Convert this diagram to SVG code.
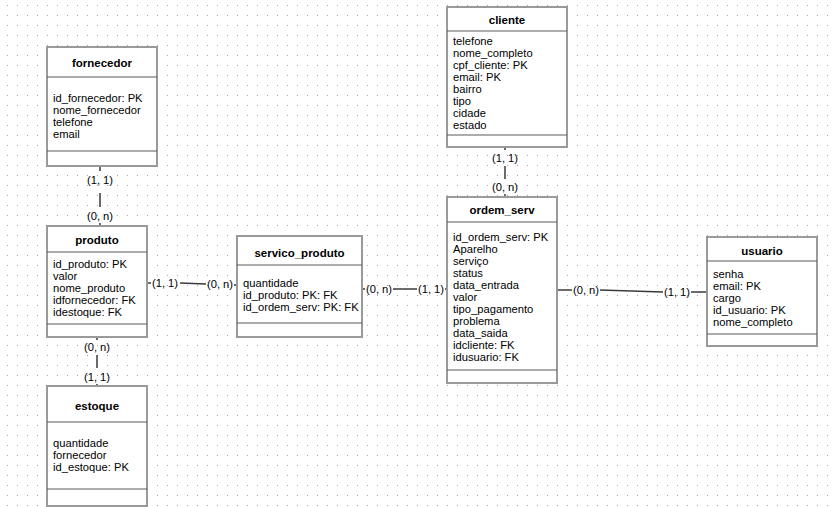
<svg xmlns="http://www.w3.org/2000/svg" width="832" height="507" viewBox="0 0 832 507">
  <defs>
    <pattern id="grid" x="0" y="0" width="10" height="10" patternUnits="userSpaceOnUse">
      <rect x="7" y="5" width="1" height="1" fill="#a8a8a8"/>
    </pattern>
    <style>
      .box { fill: #ffffff; stroke: #9a9a9a; stroke-width: 2; }
      .sep { stroke: #5a5a5a; stroke-width: 1.2; }
      .title { font-family: "Liberation Sans", Arial, sans-serif; font-size: 11.5px; font-weight: bold; fill: #000; text-anchor: middle; }
      .attr { font-family: "Liberation Sans", Arial, sans-serif; font-size: 11.2px; fill: #000; }
      .card { font-family: "Liberation Sans", Arial, sans-serif; font-size: 11.2px; fill: #000; text-anchor: middle; }
      .link { stroke: #3a3a3a; stroke-width: 1.5; fill: none; }
    </style>
  </defs>

  <rect x="0" y="0" width="832" height="507" fill="#ffffff"/>
  <rect x="0" y="0" width="832" height="507" fill="url(#grid)"/>

  <!-- relationships -->
  <g id="connectors">
    <!-- fornecedor - produto -->
    <line class="link" x1="100" y1="166" x2="100" y2="171"/>
    <text class="card" x="100" y="184">(1, 1)</text>
    <line class="link" x1="100" y1="193" x2="100" y2="207"/>
    <text class="card" x="100" y="220">(0, n)</text>
    <line class="link" x1="100" y1="223" x2="100" y2="226"/>

    <!-- produto - estoque -->
    <line class="link" x1="97" y1="337" x2="97" y2="340"/>
    <text class="card" x="97" y="351">(0, n)</text>
    <line class="link" x1="97" y1="355" x2="97" y2="368"/>
    <text class="card" x="97" y="381">(1, 1)</text>
    <line class="link" x1="97" y1="384" x2="97" y2="386"/>

    <!-- produto - servico_produto -->
    <line class="link" x1="147" y1="283" x2="151" y2="283"/>
    <text class="card" x="165" y="287">(1, 1)</text>
    <line class="link" x1="180" y1="283" x2="206" y2="284"/>
    <text class="card" x="220" y="288">(0, n)</text>
    <line class="link" x1="234" y1="285" x2="237" y2="285"/>

    <!-- servico_produto - ordem_serv -->
    <line class="link" x1="362" y1="289" x2="365" y2="289"/>
    <text class="card" x="379" y="293">(0, n)</text>
    <line class="link" x1="393" y1="289" x2="417" y2="289"/>
    <text class="card" x="431" y="293">(1, 1)</text>
    <line class="link" x1="445" y1="289" x2="447" y2="289"/>

    <!-- cliente - ordem_serv -->
    <line class="link" x1="505" y1="147" x2="505" y2="150"/>
    <text class="card" x="505" y="162">(1, 1)</text>
    <line class="link" x1="505" y1="166" x2="505" y2="179"/>
    <text class="card" x="505" y="191">(0, n)</text>
    <line class="link" x1="505" y1="194" x2="505" y2="197"/>

    <!-- ordem_serv - usuario -->
    <line class="link" x1="557" y1="290" x2="572" y2="290"/>
    <text class="card" x="586" y="294">(0, n)</text>
    <line class="link" x1="600" y1="290" x2="663" y2="292"/>
    <text class="card" x="677" y="296">(1, 1)</text>
    <line class="link" x1="691" y1="292" x2="707" y2="292"/>
  </g>

  <!-- fornecedor -->
  <g id="fornecedor">
    <rect class="box" x="47" y="47" width="110" height="119"/>
    <line class="sep" x1="47" y1="77" x2="157" y2="77"/>
    <line class="sep" x1="47" y1="151" x2="157" y2="151"/>
    <text class="title" x="102" y="67">fornecedor</text>
    <text class="attr" x="53" y="102">id_fornecedor: PK</text>
    <text class="attr" x="53" y="114">nome_fornecedor</text>
    <text class="attr" x="53" y="126">telefone</text>
    <text class="attr" x="53" y="138">email</text>
  </g>

  <!-- produto -->
  <g id="produto">
    <rect class="box" x="47" y="226" width="100" height="111"/>
    <line class="sep" x1="47" y1="252" x2="147" y2="252"/>
    <line class="sep" x1="47" y1="324" x2="147" y2="324"/>
    <text class="title" x="97" y="244">produto</text>
    <text class="attr" x="53" y="268">id_produto: PK</text>
    <text class="attr" x="53" y="280">valor</text>
    <text class="attr" x="53" y="292">nome_produto</text>
    <text class="attr" x="53" y="304">idfornecedor: FK</text>
    <text class="attr" x="53" y="316">idestoque: FK</text>
  </g>

  <!-- estoque -->
  <g id="estoque">
    <rect class="box" x="47" y="386" width="100" height="120"/>
    <line class="sep" x1="47" y1="422" x2="147" y2="422"/>
    <line class="sep" x1="47" y1="489" x2="147" y2="489"/>
    <text class="title" x="97" y="410">estoque</text>
    <text class="attr" x="53" y="447">quantidade</text>
    <text class="attr" x="53" y="459">fornecedor</text>
    <text class="attr" x="53" y="471">id_estoque: PK</text>
  </g>

  <!-- servico_produto -->
  <g id="servico_produto">
    <rect class="box" x="237" y="236" width="125" height="101"/>
    <line class="sep" x1="237" y1="265" x2="362" y2="265"/>
    <line class="sep" x1="237" y1="323" x2="362" y2="323"/>
    <text class="title" x="299.5" y="257">servico_produto</text>
    <text class="attr" x="243" y="287">quantidade</text>
    <text class="attr" x="243" y="299">id_produto: PK: FK</text>
    <text class="attr" x="243" y="311">id_ordem_serv: PK: FK</text>
  </g>

  <!-- cliente -->
  <g id="cliente">
    <rect class="box" x="447" y="7" width="120" height="140"/>
    <line class="sep" x1="447" y1="31" x2="567" y2="31"/>
    <line class="sep" x1="447" y1="135" x2="567" y2="135"/>
    <text class="title" x="507" y="24">cliente</text>
    <text class="attr" x="453" y="45">telefone</text>
    <text class="attr" x="453" y="57">nome_completo</text>
    <text class="attr" x="453" y="69">cpf_cliente: PK</text>
    <text class="attr" x="453" y="81">email: PK</text>
    <text class="attr" x="453" y="93">bairro</text>
    <text class="attr" x="453" y="105">tipo</text>
    <text class="attr" x="453" y="117">cidade</text>
    <text class="attr" x="453" y="129">estado</text>
  </g>

  <!-- ordem_serv -->
  <g id="ordem_serv">
    <rect class="box" x="447" y="197" width="110" height="186"/>
    <line class="sep" x1="447" y1="222" x2="557" y2="222"/>
    <line class="sep" x1="447" y1="370" x2="557" y2="370"/>
    <text class="title" x="502" y="214">ordem_serv</text>
    <text class="attr" x="453" y="241">id_ordem_serv: PK</text>
    <text class="attr" x="453" y="253">Aparelho</text>
    <text class="attr" x="453" y="265">serviço</text>
    <text class="attr" x="453" y="277">status</text>
    <text class="attr" x="453" y="289">data_entrada</text>
    <text class="attr" x="453" y="301">valor</text>
    <text class="attr" x="453" y="313">tipo_pagamento</text>
    <text class="attr" x="453" y="325">problema</text>
    <text class="attr" x="453" y="337">data_saida</text>
    <text class="attr" x="453" y="349">idcliente: FK</text>
    <text class="attr" x="453" y="361">idusuario: FK</text>
  </g>

  <!-- usuario -->
  <g id="usuario">
    <rect class="box" x="707" y="237" width="110" height="109"/>
    <line class="sep" x1="707" y1="261" x2="817" y2="261"/>
    <line class="sep" x1="707" y1="334" x2="817" y2="334"/>
    <text class="title" x="762" y="255">usuario</text>
    <text class="attr" x="713" y="278">senha</text>
    <text class="attr" x="713" y="290">email: PK</text>
    <text class="attr" x="713" y="302">cargo</text>
    <text class="attr" x="713" y="314">id_usuario: PK</text>
    <text class="attr" x="713" y="326">nome_completo</text>
  </g>
</svg>
